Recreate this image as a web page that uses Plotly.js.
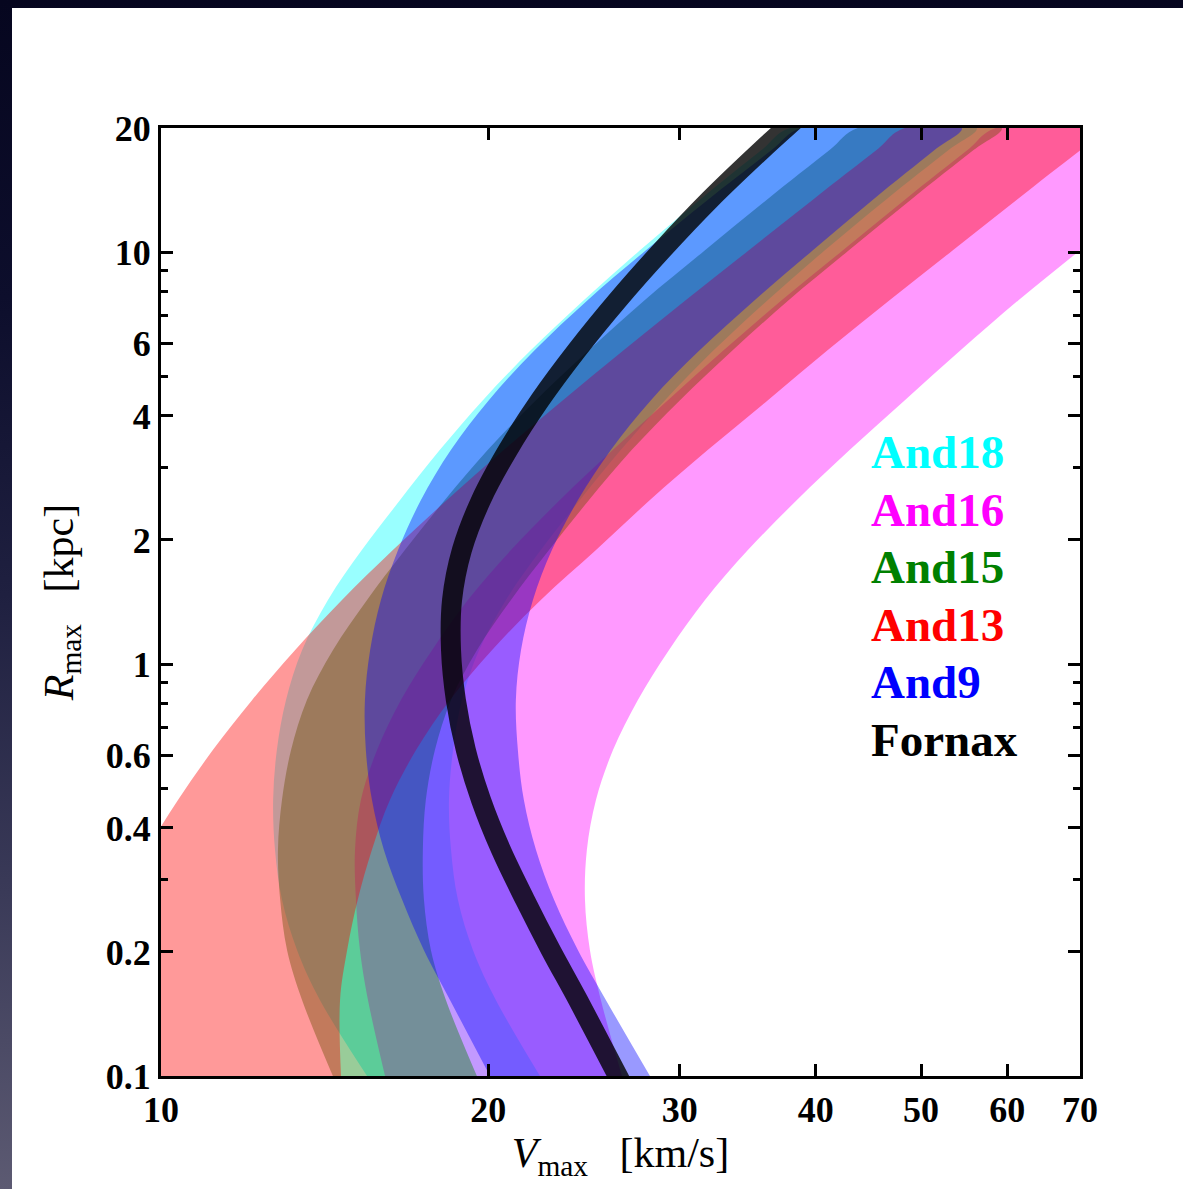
<!DOCTYPE html>
<html><head><meta charset="utf-8">
<script src="https://cdn.plot.ly/plotly-3.0.1.min.js"></script>
<style>
html,body{margin:0;padding:0;width:1183px;height:1189px;overflow:hidden;
background:linear-gradient(to bottom,#06061f 0%,#0d0e2c 25%,#1f2040 50%,#3a3a58 75%,#5c5a72 100%);}
#chart{position:absolute;left:12px;top:8px;width:1171px;height:1181px;background:#fff;}
</style></head><body><div id="chart"></div>
<script>
// Rmax grid [kpc]
const rmax = [0.1, 0.153, 0.202, 0.268, 0.354, 0.468, 0.618, 0.818, 1.08, 1.43, 1.89, 2.5, 3.31, 4.37, 5.78, 7.65, 10.1, 13.4, 17.7, 20];
// Vmax band edges [km/s] (lower / upper) for each galaxy, read at the Rmax grid above
const and18Lo = [15.47, 14.00, 13.34, 12.92, 12.73, 12.68, 12.78, 13.03, 13.48, 14.24, 15.30, 16.59, 18.05, 19.77, 21.89, 24.49, 27.57, 31.30, 35.69, 37.87];
const and18Hi = [22.31, 20.32, 19.36, 18.75, 18.48, 18.40, 18.56, 18.91, 19.61, 20.76, 22.35, 24.28, 26.48, 29.07, 32.24, 36.15, 40.78, 46.41, 53.03, 56.26];
const and16Lo = [16.07, 15.50, 15.24, 15.11, 15.08, 15.27, 15.80, 16.62, 17.75, 19.15, 20.98, 23.27, 26.04, 29.25, 32.93, 37.24, 42.37, 48.31, 55.20, 58.57];
const and16Hi = [26.54, 25.38, 24.80, 24.54, 24.64, 25.12, 26.04, 27.45, 29.31, 31.64, 34.65, 38.44, 43.00, 48.31, 54.39, 61.49, 70.00, 79.79, 91.17, 96.73];
const and15Lo = [14.39, 13.48, 13.06, 12.87, 12.81, 12.92, 13.17, 13.62, 14.39, 15.47, 16.76, 18.24, 19.98, 22.12, 24.75, 27.86, 31.64, 36.07, 41.22, 43.73];
const and15Hi = [19.52, 18.28, 17.71, 17.45, 17.41, 17.52, 17.86, 18.48, 19.52, 20.98, 22.74, 24.75, 27.10, 30.01, 33.57, 37.79, 42.91, 48.93, 55.91, 59.32];
const and13Lo = [8.86, 8.81, 8.94, 9.21, 9.71, 10.37, 11.16, 12.13, 13.28, 14.67, 16.34, 18.32, 20.67, 23.42, 26.65, 30.39, 34.72, 39.76, 45.53, 48.31];
const and13Hi = [14.64, 14.61, 14.83, 15.17, 15.63, 16.24, 17.16, 18.44, 20.15, 22.35, 25.12, 28.16, 31.84, 36.15, 41.04, 46.80, 53.48, 61.24, 70.12, 74.56];
const and9Lo  = [20.07, 18.44, 17.45, 16.66, 16.03, 15.63, 15.43, 15.40, 15.57, 15.93, 16.52, 17.34, 18.48, 20.02, 22.07, 24.69, 27.92, 31.84, 36.46, 38.76];
const and9Hi  = [28.16, 25.65, 24.18, 22.98, 22.12, 21.56, 21.29, 21.20, 21.43, 21.98, 22.88, 24.18, 25.93, 28.22, 31.30, 35.17, 39.76, 45.15, 51.48, 54.51];
// Fornax curve (runs a little past both frame edges)
const fornaxR = [0.08, 0.1, 0.153, 0.202, 0.268, 0.354, 0.468, 0.618, 0.818, 1.08, 1.43, 1.89, 2.5, 3.31, 4.37, 5.78, 7.65, 10.1, 13.4, 17.7, 20, 25];
const fornaxV = [27.51, 26.31, 24.18, 22.83, 21.61, 20.54, 19.69, 19.07, 18.67, 18.48, 18.52, 18.91, 19.69, 20.85, 22.31, 24.13, 26.31, 28.88, 31.97, 35.69, 37.55, 41.31];

const names = ['And18', 'And16', 'And15', 'And13', 'And9', 'Fornax'];
const xTicks = [10, 20, 30, 40, 50, 60, 70];
const yTicks = [0.1, 0.2, 0.4, 0.6, 1, 2, 4, 6, 10, 20];
const yMinor = [0.3, 0.5, 0.7, 0.8, 0.9, 3, 5, 7, 8, 9];

const bandEdges = [[and18Lo, and18Hi], [and16Lo, and16Hi], [and15Lo, and15Hi], [and13Lo, and13Hi], [and9Lo, and9Hi]];
const bandFill = ['rgba(0,255,255,0.4)', 'rgba(255,0,255,0.4)', 'rgba(0,128,0,0.4)', 'rgba(255,0,0,0.4)', 'rgba(0,0,255,0.4)'];
const labelColor = ['#00ffff', '#ff00ff', '#008000', '#ff0000', '#0000ff', '#000000'];

const traces = bandEdges.map((e, i) => ({
  type: 'scatter', mode: 'lines', name: names[i],
  x: e[0].concat(e[1].slice().reverse()),
  y: rmax.concat(rmax.slice().reverse()),
  fill: 'toself', fillcolor: bandFill[i],
  line: {width: 0, shape: 'spline', smoothing: 1},
  hoverinfo: 'skip'
}));
traces.push({
  type: 'scatter', mode: 'lines', name: 'Fornax',
  x: fornaxV, y: fornaxR,
  line: {color: 'rgba(0,0,0,0.8)', width: 20, shape: 'spline', smoothing: 1},
  hoverinfo: 'skip'
});

const serif = 'Liberation Serif, Times New Roman, serif';
const annotations = names.map((n, i) => ({
  xref: 'paper', yref: 'paper', x: 0.7705, y: 0.6582 - i * 0.0607,
  xanchor: 'left', yanchor: 'middle', showarrow: false, text: n,
  font: {family: serif, size: 47, color: labelColor[i], weight: 'bold'}
}));

const axisCommon = {
  type: 'log', ticks: 'inside', ticklen: 12, tickwidth: 3, tickcolor: '#000',
  showline: true, linewidth: 3, linecolor: '#000', mirror: 'ticks',
  showgrid: false, zeroline: false, automargin: false,
  tickfont: {family: serif, size: 36, color: '#000', weight: 'bold'}
};

const layout = {
  width: 1171, height: 1181,
  margin: {l: 149, r: 103, t: 120, b: 113},
  paper_bgcolor: '#ffffff', plot_bgcolor: '#ffffff',
  showlegend: false,
  xaxis: Object.assign({}, axisCommon, {
    range: [1, Math.log10(70)],
    tickmode: 'array', tickvals: xTicks, ticktext: xTicks.map(String),
    title: {text: '<i>V</i><sub>max</sub>\u00a0\u00a0\u00a0[km/s]', font: {family: serif, size: 42, color: '#000'}, standoff: 8}
  }),
  yaxis: Object.assign({}, axisCommon, {
    range: [-1, Math.log10(20)],
    tickmode: 'array', tickvals: yTicks, ticktext: yTicks.map(String),
    minor: {tickmode: 'array', tickvals: yMinor, ticks: 'inside', ticklen: 7, tickwidth: 3, tickcolor: '#000', showgrid: false},
    title: {text: '<i>R</i><sub>max</sub>\u00a0\u00a0\u00a0[kpc]', font: {family: serif, size: 42, color: '#000'}, standoff: 20}
  }),
  annotations: annotations
};

Plotly.newPlot('chart', traces, layout, {displayModeBar: false, staticPlot: true});
</script></body></html>
